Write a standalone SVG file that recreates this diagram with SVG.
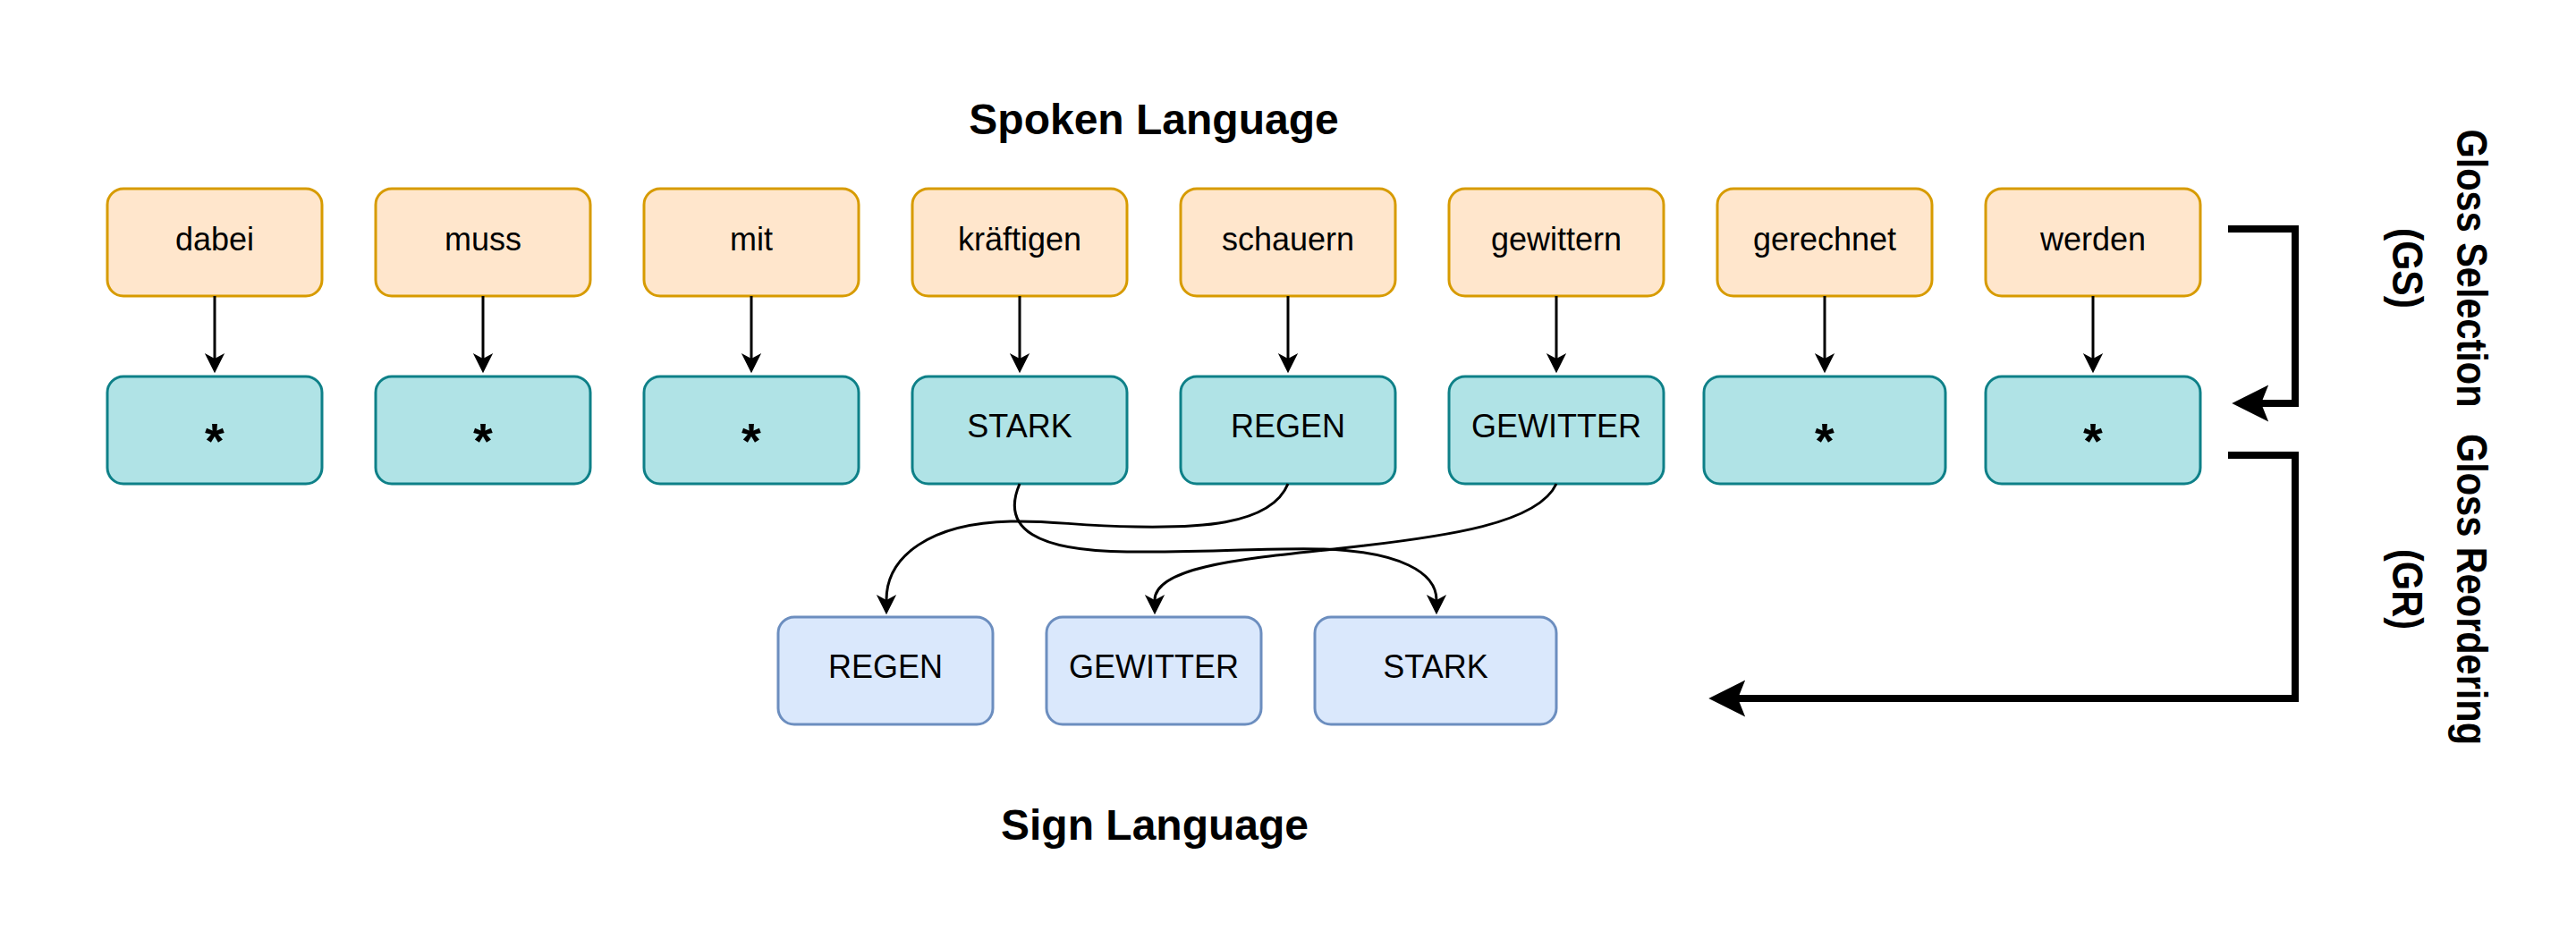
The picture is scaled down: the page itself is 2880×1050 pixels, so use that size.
<svg xmlns="http://www.w3.org/2000/svg" width="2880" height="1050" viewBox="0 0 2880 1050">
<style>
.orange{fill:#ffe6cc;stroke:#d79b00;stroke-width:3}
.teal{fill:#b0e3e6;stroke:#0e8088;stroke-width:3}
.blue{fill:#dae8fc;stroke:#6c8ebf;stroke-width:3}
.lbl{font-family:"Liberation Sans",Arial,sans-serif;font-size:36px;text-anchor:middle;fill:#000}
.star{font-family:"Liberation Sans",Arial,sans-serif;font-size:56px;font-weight:bold;text-anchor:middle;fill:#000}
.title{font-family:"Liberation Sans",Arial,sans-serif;font-size:48px;font-weight:bold;text-anchor:middle;fill:#000}
.conn{fill:none;stroke:#000;stroke-width:3}
.big{fill:none;stroke:#000;stroke-width:8}
</style>
<defs>
<marker id="arr" markerUnits="userSpaceOnUse" markerWidth="30" markerHeight="30" refX="7" refY="0" orient="auto" overflow="visible" viewBox="-5 -15 35 30">
<path d="M26,0 L0,-13 L7,0 L0,13 Z" fill="#000"/>
</marker>
<marker id="bigarr" markerUnits="userSpaceOnUse" markerWidth="50" markerHeight="50" refX="9" refY="0" orient="auto" overflow="visible" viewBox="-5 -25 55 50">
<path d="M45,0 L0,-22.5 L9,0 L0,22.5 Z" fill="#000"/>
</marker>
</defs>
<rect width="2880" height="1050" fill="#fff"/>

<text class="title" x="1290" y="150">Spoken Language</text>
<text class="title" x="1291" y="939">Sign Language</text>

<g id="w1"><rect class="orange" x="120" y="211" width="240" height="120" rx="18"/><text class="lbl" x="240" y="280">dabei</text></g>
<g id="w2"><rect class="orange" x="420" y="211" width="240" height="120" rx="18"/><text class="lbl" x="540" y="280">muss</text></g>
<g id="w3"><rect class="orange" x="720" y="211" width="240" height="120" rx="18"/><text class="lbl" x="840" y="280">mit</text></g>
<g id="w4"><rect class="orange" x="1020" y="211" width="240" height="120" rx="18"/><text class="lbl" x="1140" y="280">kräftigen</text></g>
<g id="w5"><rect class="orange" x="1320" y="211" width="240" height="120" rx="18"/><text class="lbl" x="1440" y="280">schauern</text></g>
<g id="w6"><rect class="orange" x="1620" y="211" width="240" height="120" rx="18"/><text class="lbl" x="1740" y="280">gewittern</text></g>
<g id="w7"><rect class="orange" x="1920" y="211" width="240" height="120" rx="18"/><text class="lbl" x="2040" y="280">gerechnet</text></g>
<g id="w8"><rect class="orange" x="2220" y="211" width="240" height="120" rx="18"/><text class="lbl" x="2340" y="280">werden</text></g>

<g id="g1"><rect class="teal" x="120" y="421" width="240" height="120" rx="18"/><text class="star" x="240" y="512">*</text></g>
<g id="g2"><rect class="teal" x="420" y="421" width="240" height="120" rx="18"/><text class="star" x="540" y="512">*</text></g>
<g id="g3"><rect class="teal" x="720" y="421" width="240" height="120" rx="18"/><text class="star" x="840" y="512">*</text></g>
<g id="g4"><rect class="teal" x="1020" y="421" width="240" height="120" rx="18"/><text class="lbl" x="1140" y="489">STARK</text></g>
<g id="g5"><rect class="teal" x="1320" y="421" width="240" height="120" rx="18"/><text class="lbl" x="1440" y="489">REGEN</text></g>
<g id="g6"><rect class="teal" x="1620" y="421" width="240" height="120" rx="18"/><text class="lbl" x="1740" y="489">GEWITTER</text></g>
<g id="g7"><rect class="teal" x="1905" y="421" width="270" height="120" rx="18"/><text class="star" x="2040" y="512">*</text></g>
<g id="g8"><rect class="teal" x="2220" y="421" width="240" height="120" rx="18"/><text class="star" x="2340" y="512">*</text></g>

<g id="s1"><rect class="blue" x="870" y="690" width="240" height="120" rx="18"/><text class="lbl" x="990" y="758">REGEN</text></g>
<g id="s2"><rect class="blue" x="1170" y="690" width="240" height="120" rx="18"/><text class="lbl" x="1290" y="758">GEWITTER</text></g>
<g id="s3"><rect class="blue" x="1470" y="690" width="270" height="120" rx="18"/><text class="lbl" x="1605" y="758">STARK</text></g>

<g id="labelGS" transform="translate(2747,300) rotate(90)">
<text class="title" x="0" y="0" textLength="311" lengthAdjust="spacingAndGlyphs">Gloss Selection</text>
<text class="title" x="0" y="72" textLength="90" lengthAdjust="spacingAndGlyphs">(GS)</text>
</g>
<g id="labelGR" transform="translate(2747,659) rotate(90)">
<text class="title" x="0" y="0" textLength="348" lengthAdjust="spacingAndGlyphs">Gloss Reordering</text>
<text class="title" x="0" y="72" textLength="90" lengthAdjust="spacingAndGlyphs">(GR)</text>
</g>

<g id="connectors">
<path class="conn" marker-end="url(#arr)" d="M240,331 V401"/>
<path class="conn" marker-end="url(#arr)" d="M540,331 V401"/>
<path class="conn" marker-end="url(#arr)" d="M840,331 V401"/>
<path class="conn" marker-end="url(#arr)" d="M1140,331 V401"/>
<path class="conn" marker-end="url(#arr)" d="M1440,331 V401"/>
<path class="conn" marker-end="url(#arr)" d="M1740,331 V401"/>
<path class="conn" marker-end="url(#arr)" d="M2040,331 V401"/>
<path class="conn" marker-end="url(#arr)" d="M2340,331 V401"/>

<path class="conn" marker-end="url(#arr)" d="M1140,541 C1118,592 1160,616 1260,617 C1360,618 1420,612 1480,614 C1565,617 1606,640 1606,671"/>
<path class="conn" marker-end="url(#arr)" d="M1440,541 C1420,590 1330,590 1270,589 C1200,588 1180,582 1130,583 C1040,585 991,622 991,671"/>
<path class="conn" marker-end="url(#arr)" d="M1740,541 C1720,585 1620,600 1500,613 C1400,624 1291,632 1291,671"/>

<path class="big" marker-end="url(#bigarr)" d="M2491,256 H2566 V451 H2528"/>
<path class="big" marker-end="url(#bigarr)" d="M2491,509 H2566 V781 H1943"/>
</g>
</svg>
